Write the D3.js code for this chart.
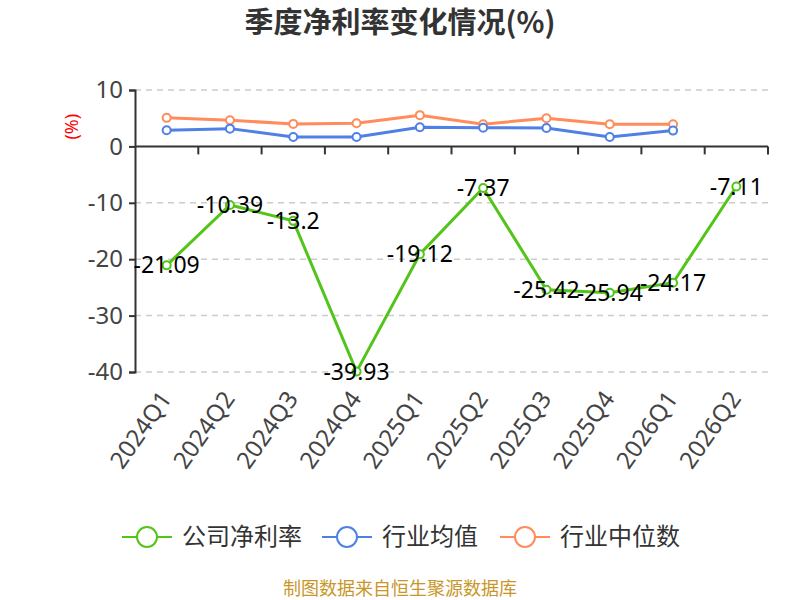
<!DOCTYPE html>
<html>
<head>
<meta charset="utf-8">
<script src="https://cdn.jsdelivr.net/npm/d3@7"></script>
<style>
  body { margin: 0; background: #fff; }
  text { font-family: "Noto Sans", "Noto Sans CJK SC", sans-serif; }
</style>
</head>
<body>
<div id="chart"></div>
<script>
// Data
const quarters = ["2024Q1", "2024Q2", "2024Q3", "2024Q4", "2025Q1", "2025Q2", "2025Q3", "2025Q4", "2026Q1", "2026Q2"];
const companyMargin = [-21.09, -10.39, -13.2, -39.93, -19.12, -7.37, -25.42, -25.94, -24.17, -7.11];
const industryMean = [2.86, 3.15, 1.67, 1.67, 3.39, 3.3, 3.27, 1.67, 2.8, null];
const industryMedian = [5.06, 4.64, 3.99, 4.1, 5.54, 3.93, 5.0, 3.93, 3.93, null];
const yTicks = [10, 0, -10, -20, -30, -40];

const series = [
  { name: "公司净利率", values: companyMargin, color: "#52c41a" },
  { name: "行业均值", values: industryMean, color: "#4e80e6" },
  { name: "行业中位数", values: industryMedian, color: "#ff8c5a" }
];

const width = 800;
const height = 600;
const margin = { left: 135, right: 32, top: 90, bottom: 228 };

const svg = d3.select("#chart")
  .append("svg")
    .attr("width", width)
    .attr("height", height);

const x = d3.scaleBand()
  .domain(quarters)
  .range([margin.left, width - margin.right]);

const y = d3.scaleLinear()
  .domain([-40, 10])
  .range([height - margin.bottom, margin.top]);

// Title
svg.append("text")
  .attr("x", width / 2)
  .attr("y", 33)
  .attr("text-anchor", "middle")
  .style("font-family", "'Noto Sans CJK SC', sans-serif")
  .style("font-size", "29px")
  .style("font-weight", "bold")
  .attr("fill", "#333")
  .text("季度净利率变化情况(%)");

// Grid lines
svg.append("g")
  .selectAll("line")
  .data(yTicks.filter(d => d !== 0))
  .join("line")
    .attr("x1", margin.left)
    .attr("x2", width - margin.right)
    .attr("y1", d => y(d))
    .attr("y2", d => y(d))
    .attr("stroke", "#ccc")
    .attr("stroke-width", 1.5)
    .attr("stroke-dasharray", "6,5");

// Y axis
const yAxis = svg.append("g")
  .attr("transform", `translate(${margin.left},0)`)
  .call(d3.axisLeft(y).tickValues(yTicks).tickSize(6).tickPadding(6).tickFormat(d => String(d)));
yAxis.select(".domain").attr("stroke", "#333").attr("stroke-width", 2);
yAxis.selectAll(".tick line").attr("stroke", "#333").attr("stroke-width", 2);
yAxis.selectAll(".tick text")
  .attr("fill", "#444")
  .style("font-size", "24px")
  .style("font-family", "'Noto Sans', sans-serif");

// X axis at zero with ticks on band boundaries
const xAxisG = svg.append("g");
xAxisG.append("line")
  .attr("x1", margin.left)
  .attr("x2", width - margin.right)
  .attr("y1", y(0))
  .attr("y2", y(0))
  .attr("stroke", "#333")
  .attr("stroke-width", 2);
xAxisG.selectAll(".xtick")
  .data(quarters)
  .join("line")
    .attr("class", "xtick")
    .attr("x1", d => x(d) + x.step())
    .attr("x2", d => x(d) + x.step())
    .attr("y1", y(0))
    .attr("y2", y(0) + 8)
    .attr("stroke", "#333")
    .attr("stroke-width", 2);

// X labels (bottom, rotated)
svg.append("g")
  .selectAll("text")
  .data(quarters)
  .join("text")
    .attr("transform", d => `translate(${x(d) + x.bandwidth() / 2 - 1},${y(-40) + 22}) rotate(-55)`)
    .attr("text-anchor", "end")
    .attr("dy", "0.35em")
    .attr("fill", "#444")
    .style("font-size", "24px")
    .text(d => d);

// Y axis unit label
svg.append("text")
  .attr("transform", `translate(78,${y(3.5)}) rotate(-90)`)
  .attr("text-anchor", "middle")
  .attr("fill", "red")
  .style("font-size", "18px")
  .text("(%)");

// Lines (draw industry first, company on top)
const line = d3.line()
  .defined(d => d.v !== null)
  .x(d => x(d.q) + x.bandwidth() / 2)
  .y(d => y(d.v));

[series[2], series[1], series[0]].forEach(s => {
  const pts = quarters.map((q, i) => ({ q, v: s.values[i] }));
  svg.append("path")
    .datum(pts)
    .attr("fill", "none")
    .attr("stroke", s.color)
    .attr("stroke-width", 3)
    .attr("d", line);
  svg.append("g")
    .selectAll("circle")
    .data(pts.filter(d => d.v !== null))
    .join("circle")
      .attr("cx", d => x(d.q) + x.bandwidth() / 2)
      .attr("cy", d => y(d.v))
      .attr("r", 4)
      .attr("fill", "#fff")
      .attr("stroke", s.color)
      .attr("stroke-width", 2);
});

// Value labels for company
svg.append("g")
  .selectAll("text")
  .data(quarters.map((q, i) => ({ q, v: companyMargin[i] })))
  .join("text")
    .attr("x", d => x(d.q) + x.bandwidth() / 2)
    .attr("y", d => y(d.v))
    .attr("dy", "0.35em")
    .attr("text-anchor", "middle")
    .attr("fill", "#000")
    .style("font-size", "23px")
    .text(d => d.v);

// Legend
const legendItems = [
  { s: series[0], x: 122 },
  { s: series[1], x: 322 },
  { s: series[2], x: 500 }
];
const lg = svg.append("g")
  .selectAll("g")
  .data(legendItems)
  .join("g")
    .attr("transform", d => `translate(${d.x},537)`);
lg.append("line")
  .attr("x1", 0).attr("x2", 50)
  .attr("stroke", d => d.s.color)
  .attr("stroke-width", 2);
lg.append("circle")
  .attr("cx", 25).attr("r", 10)
  .attr("fill", "#fff")
  .attr("stroke", d => d.s.color)
  .attr("stroke-width", 2);
lg.append("text")
  .attr("x", 60)
  .attr("dy", "0.35em")
  .attr("fill", "#333")
  .style("font-family", "'Noto Sans CJK SC', sans-serif")
  .style("font-size", "24px")
  .text(d => d.s.name);

// Footer
svg.append("text")
  .attr("x", width / 2)
  .attr("y", 595)
  .attr("text-anchor", "middle")
  .attr("fill", "#c8962a")
  .style("font-family", "'Noto Sans CJK SC', sans-serif")
  .style("font-size", "18px")
  .text("制图数据来自恒生聚源数据库");
</script>
</body>
</html>
